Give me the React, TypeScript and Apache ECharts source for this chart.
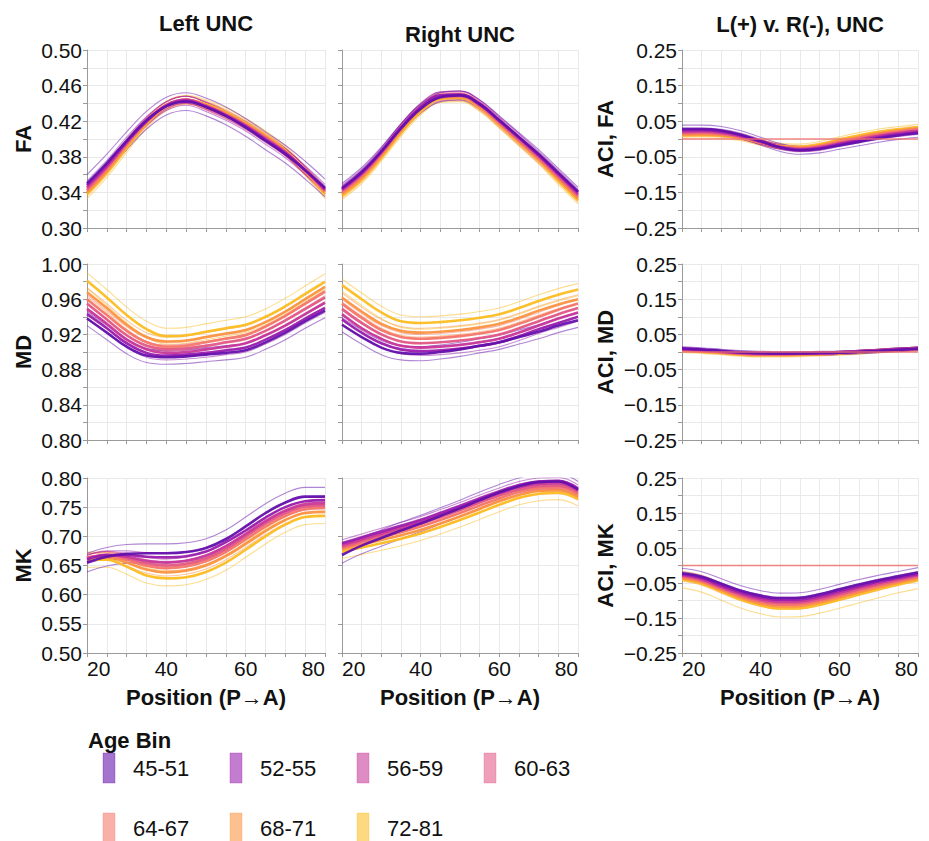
import React, { useEffect, useRef } from 'react';
import * as echarts from 'echarts';

const POSITIONS = [20, 25, 30, 35, 40, 45, 50, 55, 60, 65, 70, 75, 80];
const AGE_BINS = ['45-51', '52-55', '56-59', '60-63', '64-67', '68-71', '72-81'];
const BIN_COLORS = ['#6410ac', '#9a1eae', '#c8389a', '#e35a86', '#f5776a', '#fb9441', '#fcbd22'];

const COLUMN_TITLES = ['Left UNC', 'Right UNC', 'L(+) v. R(-), UNC'];
const ROW_TITLES = ['FA', 'MD', 'MK'];
const ACI_TITLES = ['ACI, FA', 'ACI, MD', 'ACI, MK'];
const X_TITLE = 'Position (P\u2192A)';
const LEGEND_TITLE = 'Age Bin';

// ---- FA ----
const FA_LEFT = [
  [0.350, 0.373, 0.398, 0.421, 0.437, 0.442, 0.436, 0.426, 0.413, 0.398, 0.383, 0.365, 0.345],
  [0.348, 0.371, 0.397, 0.420, 0.437, 0.443, 0.436, 0.426, 0.414, 0.399, 0.384, 0.365, 0.344],
  [0.346, 0.369, 0.396, 0.420, 0.438, 0.444, 0.437, 0.427, 0.415, 0.400, 0.385, 0.365, 0.343],
  [0.344, 0.368, 0.395, 0.420, 0.438, 0.444, 0.437, 0.427, 0.415, 0.401, 0.385, 0.365, 0.342],
  [0.342, 0.366, 0.394, 0.419, 0.438, 0.444, 0.438, 0.428, 0.416, 0.402, 0.386, 0.364, 0.341],
  [0.340, 0.364, 0.392, 0.418, 0.437, 0.444, 0.438, 0.429, 0.417, 0.403, 0.386, 0.364, 0.340],
  [0.338, 0.362, 0.390, 0.417, 0.437, 0.444, 0.439, 0.430, 0.418, 0.404, 0.387, 0.364, 0.338],
];
const FA_LEFT_CI = [0.010, 0.005, 0.004, 0.004, 0.004, 0.004, 0.005];

const FA_RIGHT = [
  [0.345, 0.363, 0.386, 0.412, 0.434, 0.447, 0.449, 0.439, 0.421, 0.402, 0.383, 0.362, 0.341],
  [0.344, 0.362, 0.386, 0.413, 0.436, 0.449, 0.450, 0.440, 0.421, 0.402, 0.382, 0.361, 0.340],
  [0.343, 0.361, 0.385, 0.413, 0.436, 0.449, 0.450, 0.439, 0.420, 0.401, 0.381, 0.360, 0.338],
  [0.342, 0.360, 0.384, 0.412, 0.435, 0.448, 0.449, 0.438, 0.419, 0.399, 0.380, 0.358, 0.337],
  [0.340, 0.358, 0.383, 0.411, 0.434, 0.447, 0.448, 0.437, 0.418, 0.398, 0.378, 0.357, 0.335],
  [0.338, 0.356, 0.381, 0.409, 0.433, 0.446, 0.447, 0.436, 0.417, 0.397, 0.377, 0.355, 0.333],
  [0.336, 0.354, 0.379, 0.407, 0.431, 0.445, 0.446, 0.435, 0.416, 0.396, 0.376, 0.353, 0.331],
];
const FA_RIGHT_CI = [0.005, 0.004, 0.004, 0.004, 0.004, 0.004, 0.004];

const FA_ACI = [
  [0.028, 0.028, 0.024, 0.012, -0.006, -0.024, -0.032, -0.028, -0.018, -0.008, 0.002, 0.010, 0.016],
  [0.025, 0.025, 0.021, 0.010, -0.007, -0.023, -0.030, -0.026, -0.015, -0.005, 0.005, 0.013, 0.019],
  [0.021, 0.022, 0.018, 0.008, -0.008, -0.023, -0.029, -0.024, -0.013, -0.002, 0.008, 0.016, 0.022],
  [0.018, 0.019, 0.016, 0.006, -0.009, -0.022, -0.027, -0.022, -0.011, 0.000, 0.010, 0.018, 0.024],
  [0.015, 0.016, 0.013, 0.005, -0.009, -0.022, -0.026, -0.020, -0.008, 0.003, 0.013, 0.021, 0.027],
  [0.012, 0.013, 0.011, 0.004, -0.010, -0.021, -0.024, -0.018, -0.005, 0.006, 0.016, 0.024, 0.030],
  [0.010, 0.011, 0.009, 0.003, -0.010, -0.020, -0.022, -0.015, -0.002, 0.010, 0.020, 0.027, 0.033],
];
const FA_ACI_CI = [0.011, 0.006, 0.006, 0.006, 0.006, 0.006, 0.008];

// ---- MD ----
const MD_LEFT = [
  [0.938, 0.922, 0.906, 0.896, 0.894, 0.895, 0.897, 0.899, 0.902, 0.911, 0.922, 0.935, 0.947],
  [0.943, 0.927, 0.910, 0.899, 0.896, 0.897, 0.899, 0.902, 0.905, 0.914, 0.925, 0.938, 0.950],
  [0.949, 0.932, 0.914, 0.903, 0.899, 0.900, 0.903, 0.906, 0.910, 0.919, 0.930, 0.943, 0.956],
  [0.955, 0.937, 0.919, 0.907, 0.903, 0.904, 0.907, 0.911, 0.915, 0.924, 0.936, 0.949, 0.962],
  [0.960, 0.942, 0.924, 0.911, 0.906, 0.907, 0.911, 0.915, 0.919, 0.929, 0.941, 0.955, 0.969],
  [0.968, 0.950, 0.931, 0.917, 0.912, 0.913, 0.917, 0.921, 0.925, 0.934, 0.946, 0.960, 0.974],
  [0.981, 0.962, 0.942, 0.926, 0.918, 0.919, 0.923, 0.927, 0.931, 0.940, 0.952, 0.966, 0.980],
];
const MD_LEFT_CI = [0.008, 0.005, 0.005, 0.005, 0.005, 0.005, 0.009];

const MD_RIGHT = [
  [0.931, 0.917, 0.905, 0.899, 0.898, 0.900, 0.903, 0.907, 0.911, 0.917, 0.923, 0.930, 0.936],
  [0.937, 0.922, 0.910, 0.903, 0.901, 0.902, 0.904, 0.907, 0.911, 0.918, 0.926, 0.933, 0.940],
  [0.943, 0.927, 0.915, 0.907, 0.905, 0.906, 0.908, 0.911, 0.915, 0.922, 0.930, 0.938, 0.945],
  [0.949, 0.933, 0.920, 0.912, 0.910, 0.911, 0.913, 0.916, 0.920, 0.927, 0.935, 0.943, 0.950],
  [0.955, 0.939, 0.925, 0.917, 0.915, 0.916, 0.918, 0.921, 0.925, 0.932, 0.940, 0.948, 0.955],
  [0.962, 0.946, 0.932, 0.924, 0.922, 0.923, 0.925, 0.928, 0.932, 0.939, 0.947, 0.954, 0.960],
  [0.976, 0.960, 0.945, 0.935, 0.933, 0.934, 0.936, 0.939, 0.943, 0.950, 0.958, 0.965, 0.971],
];
const MD_RIGHT_CI = [0.008, 0.005, 0.005, 0.005, 0.005, 0.005, 0.007];

const MD_ACI = [
  [0.010, 0.007, 0.003, -0.001, -0.003, -0.004, -0.004, -0.003, -0.002, 0.000, 0.003, 0.006, 0.009],
  [0.009, 0.006, 0.002, -0.002, -0.004, -0.005, -0.004, -0.003, -0.002, 0.001, 0.004, 0.007, 0.010],
  [0.008, 0.005, 0.001, -0.003, -0.005, -0.005, -0.005, -0.004, -0.002, 0.001, 0.004, 0.007, 0.010],
  [0.007, 0.004, 0.000, -0.004, -0.006, -0.006, -0.005, -0.004, -0.002, 0.001, 0.004, 0.007, 0.010],
  [0.006, 0.003, -0.001, -0.005, -0.007, -0.007, -0.006, -0.005, -0.003, 0.000, 0.004, 0.007, 0.010],
  [0.005, 0.002, -0.002, -0.006, -0.008, -0.008, -0.007, -0.005, -0.003, 0.000, 0.003, 0.006, 0.009],
  [0.004, 0.001, -0.003, -0.007, -0.009, -0.009, -0.008, -0.006, -0.004, -0.001, 0.003, 0.006, 0.009],
];
const MD_ACI_CI = [0.005, 0.004, 0.004, 0.004, 0.004, 0.004, 0.005];

// ---- MK ----
const MK_LEFT = [
  [0.655, 0.665, 0.670, 0.671, 0.671, 0.673, 0.680, 0.695, 0.717, 0.740, 0.758, 0.768, 0.768],
  [0.660, 0.668, 0.668, 0.665, 0.664, 0.666, 0.674, 0.690, 0.710, 0.732, 0.750, 0.760, 0.762],
  [0.662, 0.668, 0.665, 0.658, 0.655, 0.658, 0.667, 0.683, 0.704, 0.726, 0.744, 0.755, 0.757],
  [0.663, 0.668, 0.663, 0.654, 0.650, 0.653, 0.662, 0.678, 0.700, 0.722, 0.740, 0.751, 0.753],
  [0.664, 0.667, 0.660, 0.650, 0.646, 0.649, 0.658, 0.674, 0.695, 0.717, 0.735, 0.747, 0.749],
  [0.664, 0.665, 0.655, 0.643, 0.638, 0.641, 0.650, 0.666, 0.687, 0.709, 0.728, 0.740, 0.742],
  [0.660, 0.660, 0.648, 0.633, 0.628, 0.630, 0.639, 0.655, 0.677, 0.700, 0.720, 0.733, 0.735],
];
const MK_LEFT_CI = [0.016, 0.007, 0.006, 0.006, 0.006, 0.006, 0.013];

const MK_RIGHT = [
  [0.668, 0.684, 0.697, 0.710, 0.722, 0.735, 0.748, 0.762, 0.775, 0.786, 0.793, 0.794, 0.780],
  [0.688, 0.698, 0.708, 0.718, 0.728, 0.740, 0.752, 0.765, 0.777, 0.788, 0.794, 0.795, 0.782],
  [0.685, 0.695, 0.705, 0.715, 0.725, 0.737, 0.749, 0.762, 0.774, 0.784, 0.790, 0.791, 0.779],
  [0.682, 0.692, 0.702, 0.712, 0.722, 0.733, 0.745, 0.758, 0.770, 0.780, 0.786, 0.787, 0.776],
  [0.680, 0.689, 0.698, 0.707, 0.717, 0.728, 0.740, 0.753, 0.765, 0.776, 0.782, 0.783, 0.772],
  [0.678, 0.686, 0.694, 0.702, 0.711, 0.722, 0.734, 0.747, 0.760, 0.771, 0.778, 0.779, 0.768],
  [0.674, 0.681, 0.688, 0.696, 0.705, 0.716, 0.728, 0.741, 0.754, 0.766, 0.773, 0.775, 0.764],
];
const MK_RIGHT_CI = [0.014, 0.006, 0.005, 0.005, 0.005, 0.006, 0.012];

const MK_ACI = [
  [-0.022, -0.032, -0.052, -0.072, -0.086, -0.093, -0.092, -0.082, -0.068, -0.054, -0.042, -0.031, -0.020],
  [-0.025, -0.036, -0.057, -0.077, -0.091, -0.098, -0.097, -0.087, -0.073, -0.059, -0.046, -0.035, -0.024],
  [-0.028, -0.039, -0.061, -0.081, -0.096, -0.103, -0.102, -0.092, -0.078, -0.063, -0.050, -0.038, -0.027],
  [-0.030, -0.042, -0.064, -0.085, -0.100, -0.107, -0.106, -0.097, -0.083, -0.068, -0.054, -0.042, -0.030],
  [-0.033, -0.045, -0.067, -0.089, -0.104, -0.112, -0.111, -0.101, -0.087, -0.072, -0.058, -0.045, -0.033],
  [-0.036, -0.048, -0.071, -0.093, -0.109, -0.117, -0.116, -0.106, -0.092, -0.077, -0.063, -0.049, -0.037],
  [-0.040, -0.052, -0.075, -0.098, -0.114, -0.123, -0.122, -0.112, -0.098, -0.083, -0.068, -0.054, -0.042],
];
const MK_ACI_CI = [0.014, 0.007, 0.007, 0.007, 0.007, 0.008, 0.024];

const Y_FA = { min: 0.3, max: 0.5, interval: 0.02, labelEvery: 2 };
const Y_MD = { min: 0.8, max: 1.0, interval: 0.02, labelEvery: 2 };
const Y_MK = { min: 0.5, max: 0.8, interval: 0.05, labelEvery: 1 };
const Y_ACI = { min: -0.25, max: 0.25, interval: 0.05, labelEvery: 2 };

const PANELS = [
  { row: 0, col: 0, data: FA_LEFT, ci: FA_LEFT_CI, y: Y_FA },
  { row: 0, col: 1, data: FA_RIGHT, ci: FA_RIGHT_CI, y: Y_FA },
  { row: 0, col: 2, data: FA_ACI, ci: FA_ACI_CI, y: Y_ACI },
  { row: 1, col: 0, data: MD_LEFT, ci: MD_LEFT_CI, y: Y_MD },
  { row: 1, col: 1, data: MD_RIGHT, ci: MD_RIGHT_CI, y: Y_MD },
  { row: 1, col: 2, data: MD_ACI, ci: MD_ACI_CI, y: Y_ACI },
  { row: 2, col: 0, data: MK_LEFT, ci: MK_LEFT_CI, y: Y_MK },
  { row: 2, col: 1, data: MK_RIGHT, ci: MK_RIGHT_CI, y: Y_MK },
  { row: 2, col: 2, data: MK_ACI, ci: MK_ACI_CI, y: Y_ACI },
];

const COLS = [
  { left: 87, width: 238 },
  { left: 342, width: 236 },
  { left: 682, width: 236 },
];
const ROWS = [
  { top: 50, height: 178 },
  { top: 264, height: 176 },
  { top: 478, height: 175 },
];

const FONT = '"Liberation Sans", Arial, Helvetica, sans-serif';
const GRID_COLOR = '#e9e9e9';
const AXIS_COLOR = '#9a9a9a';
const TEXT_COLOR = '#111111';

const fmt = (v: number) => (v < -1e-9 ? '\u2212' : '') + Math.abs(v).toFixed(2);

function hexToRgba(hex: string, a: number) {
  const n = parseInt(hex.slice(1), 16);
  return `rgba(${(n >> 16) & 255},${(n >> 8) & 255},${n & 255},${a})`;
}

function buildOption() {
  const grid: any[] = [];
  const xAxis: any[] = [];
  const yAxis: any[] = [];
  const series: any[] = [];

  PANELS.forEach((p, pi) => {
    const c = COLS[p.col];
    const r = ROWS[p.row];
    grid.push({
      left: c.left,
      top: r.top,
      width: c.width,
      height: r.height,
      containLabel: false,
      outerBoundsMode: 'none',
    });
    const bottomRow = p.row === 2;
    xAxis.push({
      type: 'value',
      gridIndex: pi,
      min: 20,
      max: 80,
      interval: 5,
      axisLine: { show: true, onZero: false, lineStyle: { color: AXIS_COLOR, width: 1 } },
      axisTick: { show: true, length: 4, lineStyle: { color: AXIS_COLOR } },
      splitLine: { show: true, lineStyle: { color: GRID_COLOR, width: 1 } },
      axisLabel: {
        show: bottomRow,
        fontSize: 21,
        fontFamily: FONT,
        color: TEXT_COLOR,
        margin: 5,
        showMinLabel: true,
        showMaxLabel: true,
        alignMinLabel: 'left',
        alignMaxLabel: 'right',
        hideOverlap: false,
        formatter: (v: number) => (Math.round(v) % 20 === 0 ? String(Math.round(v)) : ''),
      },
    });
    const ya = p.y;
    yAxis.push({
      type: 'value',
      gridIndex: pi,
      min: ya.min,
      max: ya.max,
      interval: ya.interval,
      axisLine: { show: true, onZero: false, lineStyle: { color: AXIS_COLOR, width: 1 } },
      axisTick: { show: true, length: 4, lineStyle: { color: AXIS_COLOR } },
      splitLine: { show: true, lineStyle: { color: GRID_COLOR, width: 1 } },
      axisLabel: {
        show: p.col !== 1,
        fontSize: 21,
        fontFamily: FONT,
        color: TEXT_COLOR,
        margin: 5,
        showMinLabel: true,
        showMaxLabel: true,
        hideOverlap: false,
        formatter: (v: number) => {
          const idx = Math.round((v - ya.min) / ya.interval);
          return idx % ya.labelEvery === 0 ? fmt(v) : '';
        },
      },
    });

    const order = [6, 5, 4, 3, 2, 1, 0];
    // thin CI lines
    order.forEach((b) => {
      const mean = p.data[b];
      const hw = p.ci[b];
      [-1, 1].forEach((sgn) => {
        series.push({
          type: 'line',
          name: AGE_BINS[b],
          xAxisIndex: pi,
          yAxisIndex: pi,
          data: POSITIONS.map((x, i) => [x, mean[i] + sgn * hw]),
          smooth: 0.4,
          showSymbol: false,
          silent: true,
          lineStyle: { color: BIN_COLORS[b], width: 1.1, opacity: 0.5 },
          z: 2,
        });
      });
    });
    // mean lines
    order.forEach((b) => {
      series.push({
        type: 'line',
        name: AGE_BINS[b],
        xAxisIndex: pi,
        yAxisIndex: pi,
        data: POSITIONS.map((x, i) => [x, p.data[b][i]]),
        smooth: 0.4,
        showSymbol: false,
        silent: true,
        lineStyle: { color: BIN_COLORS[b], width: 2.6, opacity: 0.95 },
        z: 3,
      });
    });
    if (p.col === 2) {
      series.push({
        type: 'line',
        name: 'zero',
        xAxisIndex: pi,
        yAxisIndex: pi,
        data: [[20, 0], [80, 0]],
        showSymbol: false,
        silent: true,
        lineStyle: { color: '#f07070', width: 1.4, opacity: 0.85 },
        z: 4,
      });
    }
  });

  const graphic: any[] = [];
  const colCenters = COLS.map((c) => c.left + c.width / 2);
  const titleY = [23, 34, 24];
  COLUMN_TITLES.forEach((t, i) => {
    graphic.push({
      type: 'text',
      x: colCenters[i],
      y: titleY[i],
      style: { text: t, fill: TEXT_COLOR, font: `bold 22px ${FONT}`, align: 'center', verticalAlign: 'middle' },
    });
  });
  ROWS.forEach((r, i) => {
    const cy = r.top + r.height / 2;
    graphic.push({
      type: 'text',
      x: 23,
      y: cy,
      rotation: Math.PI / 2,
      style: { text: ROW_TITLES[i], fill: TEXT_COLOR, font: `bold 22px ${FONT}`, align: 'center', verticalAlign: 'middle' },
    });
    graphic.push({
      type: 'text',
      x: 605,
      y: cy,
      rotation: Math.PI / 2,
      style: { text: ACI_TITLES[i], fill: TEXT_COLOR, font: `bold 22px ${FONT}`, align: 'center', verticalAlign: 'middle' },
    });
  });
  colCenters.forEach((cx) => {
    graphic.push({
      type: 'text',
      x: cx,
      y: 697,
      style: { text: X_TITLE, fill: TEXT_COLOR, font: `bold 22px ${FONT}`, align: 'center', verticalAlign: 'middle' },
    });
  });
  graphic.push({
    type: 'text',
    x: 88,
    y: 740,
    style: { text: LEGEND_TITLE, fill: TEXT_COLOR, font: `bold 22px ${FONT}`, align: 'left', verticalAlign: 'middle' },
  });
  AGE_BINS.forEach((bin, i) => {
    const col = i % 4;
    const row = Math.floor(i / 4);
    const rx = 103 + col * 127;
    const cy = 768 + row * 60;
    graphic.push({
      type: 'rect',
      shape: { x: rx, y: cy - 15, width: 12, height: 30 },
      style: { fill: hexToRgba(BIN_COLORS[i], 0.58), stroke: hexToRgba(BIN_COLORS[i], 0.3), lineWidth: 1 },
    });
    graphic.push({
      type: 'text',
      x: rx + 30,
      y: cy,
      style: { text: bin, fill: TEXT_COLOR, font: `22px ${FONT}`, align: 'left', verticalAlign: 'middle' },
    });
  });

  return {
    animation: false,
    backgroundColor: '#ffffff',
    grid,
    xAxis,
    yAxis,
    series,
    graphic,
  };
}

export default function App() {
  const ref = useRef<HTMLDivElement>(null);
  useEffect(() => {
    document.body.style.margin = '0';
    if (!ref.current) return;
    const chart = echarts.init(ref.current, null, { renderer: 'svg' });
    chart.setOption(buildOption() as any);
    return () => chart.dispose();
  }, []);
  return <div ref={ref} style={{ width: 929, height: 841 }} />;
}
